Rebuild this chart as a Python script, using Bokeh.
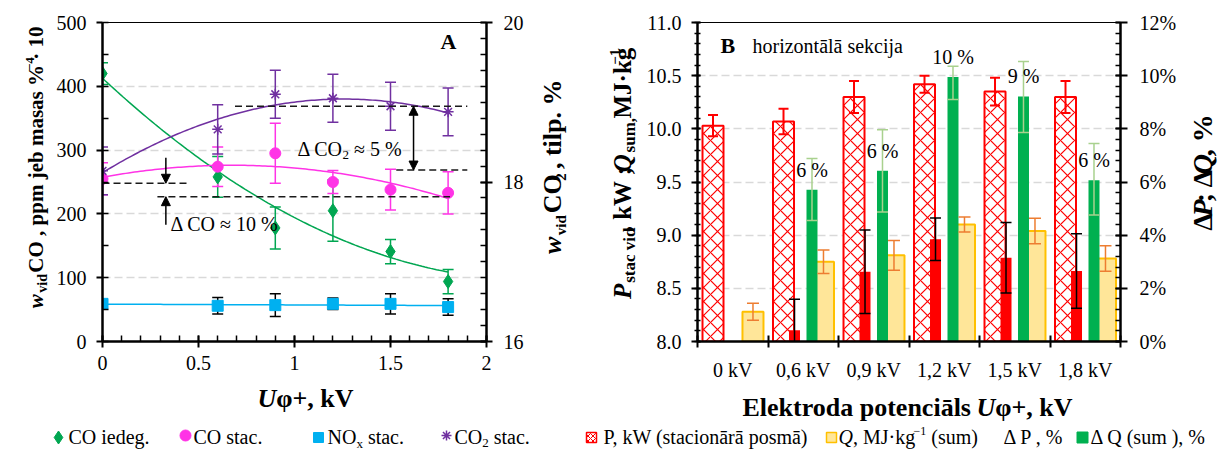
import numpy as np
from bokeh.plotting import figure
from bokeh.models import (Range1d, LinearAxis, SingleIntervalTicker, FixedTicker, Label,
                          Arrow, NormalHead, PrintfTickFormatter, CustomJSTickFormatter)
from bokeh.layouts import row, column
from bokeh.core.properties import value
from bokeh.embed import file_html
from bokeh.resources import INLINE

FONT = "Liberation Serif"

# ---------------- Panel A data ----------------
u_kv = [0.0, 0.6, 0.9, 1.2, 1.5, 1.8]
co_iedeg = [420, 258, 178, 205, 141, 94]
co_iedeg_err = [17, 32, 33, 48, 19, 19]
co_stac = [255, 274, 295, 250, 238, 233]
co_stac_err = [25, 31, 47, 18, 32, 33]
nox_stac = [59, 56, 57, 59, 59, 54]
nox_stac_err = [4, 13, 18, 9, 16, 13]
co2_stac = [18.14, 18.66, 19.10, 19.05, 18.95, 18.88]
co2_stac_err = [0.30, 0.31, 0.30, 0.30, 0.30, 0.30]
co2_levels = [18.15, 18.95]   # dashed reference levels (CO2 axis)
co_levels = [227, 248]        # dashed reference levels (CO axis)

# ---------------- Panel B data ----------------
categories = ["0 kV", "0,6 kV", "0,9 kV", "1,2 kV", "1,5 kV", "1,8 kV"]
p_kw = [10.03, 10.07, 10.30, 10.42, 10.35, 10.30]
p_kw_err = [0.10, 0.12, 0.15, 0.08, 0.13, 0.15]
q_mj = [8.28, 8.75, 8.81, 9.10, 9.04, 8.78]
q_mj_err = [0.08, 0.11, 0.14, 0.07, 0.12, 0.12]
dp_pct = [0.0, 0.42, 2.62, 3.85, 3.15, 2.65]
dp_pct_err = [0.0, 1.17, 1.57, 0.80, 1.33, 1.40]
dq_pct = [0.0, 5.71, 6.42, 9.95, 9.22, 6.07]
dq_pct_err_lo = [0.0, 1.16, 1.55, 0.85, 1.36, 1.31]
dq_pct_err_hi = [0.0, 1.17, 1.55, 0.40, 1.31, 1.38]

# ---------------- text helpers ----------------
REG = {' ': 250, '%': 833, '(': 333, ')': 333, '+': 564, ',': 250, '-': 333, '.': 250, ':': 278, ';': 278,
       'A': 722, 'B': 667, 'C': 667, 'D': 722, 'E': 611, 'F': 556, 'G': 722, 'H': 722, 'I': 333, 'J': 389,
       'K': 722, 'L': 611, 'M': 889, 'N': 722, 'O': 722, 'P': 556, 'Q': 722, 'R': 667, 'S': 556, 'T': 611,
       'U': 722, 'V': 722, 'W': 944, 'a': 444, 'b': 500, 'c': 444, 'd': 500, 'e': 444, 'f': 333, 'g': 500,
       'h': 500, 'i': 278, 'j': 278, 'k': 500, 'l': 278, 'm': 778, 'n': 500, 'o': 500, 'p': 500, 'q': 500,
       'r': 333, 's': 389, 't': 278, 'u': 500, 'v': 500, 'w': 722, 'x': 500, 'y': 500, 'z': 444,
       'Δ': 612, 'φ': 520, '·': 250, '≈': 549, 'ā': 444, '−': 564}
BOLD = {'%': 1000, 'C': 722, 'E': 667, 'G': 778, 'H': 778, 'I': 389, 'K': 778, 'L': 667, 'O': 778,
        'P': 611, 'Q': 778, 'R': 722, 'T': 667, 'W': 1000, 'b': 556, 'd': 556, 'h': 556, 'j': 333,
        'k': 556, 'm': 833, 'n': 556, 'p': 556, 'q': 556, 'r': 444, 't': 333, 'u': 556, ':': 333,
        ';': 333, '+': 570, 'ā': 500, '−': 570}
MID = 0.34   # em distance from baseline to the middle of the text box


def text_width(s, size, style):
    bold = "bold" in style
    tot = 0
    for ch in s:
        if bold and ch in BOLD:
            tot += BOLD[ch]
        else:
            tot += REG.get(ch, 500)
    return tot * size / 1000.0


def compose(p, conv, px, py, segs, vertical=False, color="black"):
    """px, py: page position of the start of the baseline."""
    pos = 0.0
    for txt, size, style, shift in segs:
        lead = len(txt) - len(txt.lstrip(' '))
        pos += lead * 250 * size / 1000.0
        core = txt.strip(' ')
        if core:
            up = shift + MID * size
            if vertical:
                X, Y = px - up, py - pos
            else:
                X, Y = px + pos, py - up
            x, y = conv(X, Y)
            p.add_layout(Label(x=x, y=y, text=core, text_font=FONT, text_font_size=f"{size}px",
                               text_font_style=style, text_align="left", text_baseline="middle",
                               angle=(np.pi / 2 if vertical else 0.0), text_color=color))
            pos += text_width(core, size, style)
        trail = len(txt.lstrip(' ')) - len(txt.strip(' '))
        pos += trail * 250 * size / 1000.0


def style_axis(ax, size="20px"):
    ax.axis_line_width = 2.5
    ax.axis_line_color = "black"
    ax.major_tick_line_width = 2
    ax.minor_tick_line_width = 1.5
    ax.major_tick_line_color = "black"
    ax.minor_tick_line_color = "black"
    ax.major_label_text_font = FONT
    ax.major_label_text_font_size = size
    ax.major_label_text_color = "black"


def errbars(p, xs, ys, lo, hi, color, cap, width=1.5, rng="default"):
    xs2, y0, y1 = [], [], []
    for x, y, l, h in zip(xs, ys, lo, hi):
        if l > 0 or h > 0:
            xs2.append(x); y0.append(y - l); y1.append(y + h)
    p.segment(x0=xs2, y0=y0, x1=xs2, y1=y1, line_color=color, line_width=width, y_range_name=rng)
    p.scatter(x=xs2 + xs2, y=y0 + y1, marker="dash", size=cap, line_color=color,
              line_width=width, y_range_name=rng)


def text_fig(x0, y0, w, h):
    f = figure(width=w, height=h, x_range=Range1d(0, w), y_range=Range1d(0, h),
               output_backend="svg", toolbar_location=None, min_border=0,
               x_axis_location=None, y_axis_location=None)
    f.outline_line_color = None
    f.grid.visible = False
    f.background_fill_color = "white"
    f.border_fill_color = "white"

    def conv(gx, gy):
        return gx - x0, h - (gy - y0)
    return f, conv


H1 = 383          # height of the plot row
H2 = 450 - H1     # height of the title/legend strip

# ======================= PANEL A =======================
A_X0, WA = 52, 484
A_L, A_R, A_T = 50, 50, 22
A_B = H1 - 343
fwA, fhA = WA - A_L - A_R, H1 - A_T - A_B
FRA_X = A_X0 + A_L

pA = figure(width=WA, height=H1, x_range=Range1d(0, 2), y_range=Range1d(0, 500),
            output_backend="svg", toolbar_location=None,
            min_border_left=A_L, min_border_right=A_R, min_border_top=A_T, min_border_bottom=A_B)
pA.extra_y_ranges = {"co2": Range1d(16, 20)}
pA.outline_line_color = "black"
pA.outline_line_width = 1
pA.background_fill_color = "white"
pA.border_fill_color = "white"


def convA(px, py):
    return (px - FRA_X) / fwA * 2.0, (A_T + fhA - py) / fhA * 500.0


pA.xgrid.visible = False
pA.ygrid.grid_line_color = "#D9D9D9"
pA.ygrid.grid_line_dash = "8 4"
pA.ygrid.grid_line_width = 1.5

xa = pA.xaxis[0]
style_axis(xa)
xa.ticker = SingleIntervalTicker(interval=0.5, num_minor_ticks=5)
xa.major_tick_in, xa.major_tick_out = 6, 6
xa.minor_tick_in, xa.minor_tick_out = 6, 0
xa.major_label_standoff = 8

ya = pA.yaxis[0]
style_axis(ya)
ya.ticker = SingleIntervalTicker(interval=100, num_minor_ticks=2)
ya.major_tick_in, ya.major_tick_out = 0, 6
ya.minor_tick_in, ya.minor_tick_out = 6, 0
ya.major_label_standoff = 10

ra = LinearAxis(y_range_name="co2", ticker=SingleIntervalTicker(interval=2, num_minor_ticks=10))
style_axis(ra)
ra.major_tick_in, ra.major_tick_out = 6, 6
ra.minor_tick_in, ra.minor_tick_out = 6, 0
ra.major_label_standoff = 11
pA.add_layout(ra, "right")

C_GREEN, C_MAG, C_CYAN, C_PURP = "#00A651", "#FF33E6", "#00B0F0", "#7030A0"

xfit = np.linspace(0, 1.8, 120)
xs = np.array(u_kv)
pA.line(xfit, np.polyval(np.polyfit(xs, co_iedeg, 2), xfit), line_color=C_GREEN, line_width=1.5)
pA.line(xfit, np.polyval(np.polyfit(xs, co_stac, 2), xfit), line_color=C_MAG, line_width=1.5)
pA.line(xfit, np.polyval(np.polyfit(xs, nox_stac, 1), xfit), line_color=C_CYAN, line_width=1.5)
pA.line(xfit, np.polyval(np.polyfit(xs, co2_stac, 2), xfit), line_color=C_PURP, line_width=1.5,
        y_range_name="co2")

errbars(pA, u_kv, co_iedeg, co_iedeg_err, co_iedeg_err, C_GREEN, 11)
errbars(pA, u_kv, co_stac, co_stac_err, co_stac_err, C_MAG, 11)
errbars(pA, u_kv, nox_stac, nox_stac_err, nox_stac_err, "black", 11)
errbars(pA, u_kv, co2_stac, co2_stac_err, co2_stac_err, C_PURP, 11, rng="co2")

pA.scatter(u_kv, co_iedeg, marker="diamond", size=14, fill_color=C_GREEN, line_color=C_GREEN)
pA.scatter(u_kv, co_stac, marker="circle", size=11, fill_color=C_MAG, line_color=C_MAG)
pA.scatter(u_kv, nox_stac, marker="square", size=11, fill_color=C_CYAN, line_color=C_CYAN)
pA.scatter(u_kv, co2_stac, marker="asterisk", size=11, line_color=C_PURP, line_width=1.5,
           y_range_name="co2")

DASH = dict(line_color="#1a1a1a", line_width=1.5, line_dash="7 4")
pA.line([0.69, 1.90], [co2_levels[1]] * 2, y_range_name="co2", **DASH)
pA.line([1.53, 1.90], [co2_levels[0]] * 2, y_range_name="co2", **DASH)
pA.line([0.0, 0.45], [co_levels[1]] * 2, **DASH)
pA.line([0.286, 1.81], [co_levels[0]] * 2, **DASH)
pA.add_layout(Arrow(x_start=1.62, y_start=co2_levels[0], x_end=1.62, y_end=co2_levels[1],
                    y_range_name="co2", line_width=1.5,
                    start=NormalHead(size=9, fill_color="black", line_color="black"),
                    end=NormalHead(size=9, fill_color="black", line_color="black")))
pA.add_layout(Arrow(x_start=0.33, y_start=288, x_end=0.33, y_end=co_levels[1], line_width=1.5,
                    end=NormalHead(size=9, fill_color="black", line_color="black")))
pA.add_layout(Arrow(x_start=0.33, y_start=183, x_end=0.33, y_end=co_levels[0], line_width=1.5,
                    end=NormalHead(size=9, fill_color="black", line_color="black")))

compose(pA, convA, 297, 156, [("Δ CO", 20, "normal", 0), ("2", 13, "normal", -4), (" ≈ 5 %", 20, "normal", 0)])
compose(pA, convA, 170, 232, [("Δ CO ≈ 10 %", 20, "normal", 0)])
compose(pA, convA, 440, 49, [("A", 22, "bold", 0)])

# ======================= PANEL B =======================
B_X0, WB = 640, 542
B_L, B_R, B_T = 57, 62, 19
B_B = H1 - 349
fwB, fhB = WB - B_L - B_R, H1 - B_T - B_B
FRB_X = B_X0 + B_L

pB = figure(width=WB, height=H1, x_range=Range1d(0, 6), y_range=Range1d(8, 11),
            output_backend="svg", toolbar_location=None,
            min_border_left=B_L, min_border_right=B_R, min_border_top=B_T, min_border_bottom=B_B)
pB.extra_y_ranges = {"pct": Range1d(0, 12)}
pB.outline_line_color = "black"
pB.outline_line_width = 1
pB.background_fill_color = "white"
pB.border_fill_color = "white"


def convB(px, py):
    return (px - FRB_X) / fwB * 6.0, 8.0 + (B_T + fhB - py) / fhB * 3.0


pB.xgrid.visible = False
pB.ygrid.grid_line_color = "#D9D9D9"
pB.ygrid.grid_line_dash = "8 4"
pB.ygrid.grid_line_width = 1.5

xb = pB.xaxis[0]
style_axis(xb)
xb.ticker = FixedTicker(ticks=[i + 0.5 for i in range(len(categories))],
                        minor_ticks=list(range(len(categories) + 1)))
xb.formatter = CustomJSTickFormatter(args=dict(labels=categories),
                                     code="return labels[Math.round(tick - 0.5)] || '';")
xb.major_tick_in, xb.major_tick_out = 0, 0
xb.minor_tick_in, xb.minor_tick_out = 6, 6
xb.minor_tick_line_width = 2
xb.major_label_standoff = 11

yb = pB.yaxis[0]
style_axis(yb)
yb.ticker = SingleIntervalTicker(interval=0.5, num_minor_ticks=5)
yb.formatter = PrintfTickFormatter(format="%.1f")
yb.major_tick_in, yb.major_tick_out = 3, 6
yb.minor_tick_in, yb.minor_tick_out = 3, 3
yb.major_label_standoff = 10

rb = LinearAxis(y_range_name="pct", ticker=SingleIntervalTicker(interval=2, num_minor_ticks=5),
                formatter=PrintfTickFormatter(format="%d%%"))
style_axis(rb)
rb.major_tick_in, rb.major_tick_out = 5, 7
rb.minor_tick_in, rb.minor_tick_out = 5, 0
rb.major_label_standoff = 12
pB.add_layout(rb, "right")

idx = np.arange(len(categories))
P_OFF, Q_OFF, DP_OFF, DQ_OFF = 0.22, 0.787, 0.376, 0.624
W_PQ, W_D = 0.298, 0.156

pB.vbar(x=idx + P_OFF, top=p_kw, bottom=8, width=W_PQ, fill_color="white", line_color="#FF0000",
        line_width=2, hatch_pattern="diagonal_cross", hatch_color="#FF0000", hatch_scale=14,
        hatch_weight=1.2)
pB.vbar(x=idx + Q_OFF, top=q_mj, bottom=8, width=W_PQ, fill_color="#FFE699", line_color="#FFC000",
        line_width=2)
pB.vbar(x=idx + DP_OFF, top=dp_pct, bottom=0, width=W_D, fill_color="#FF0000", line_color=None,
        y_range_name="pct")
pB.vbar(x=idx + DQ_OFF, top=dq_pct, bottom=0, width=W_D, fill_color="#00B050", line_color=None,
        y_range_name="pct")

errbars(pB, list(idx + P_OFF), p_kw, p_kw_err, p_kw_err, "#FF0000", 10, width=2)
errbars(pB, list(idx + Q_OFF), q_mj, q_mj_err, q_mj_err, "#ED7D31", 12, width=1.5)
errbars(pB, list(idx + DP_OFF), dp_pct, dp_pct_err, dp_pct_err, "black", 11, width=1.5, rng="pct")
errbars(pB, list(idx + DQ_OFF), dq_pct, dq_pct_err_lo, dq_pct_err_hi, "#A9D18E", 11, width=1.5,
        rng="pct")

LABEL_GAP = 0.75
lab_x = [i + DQ_OFF for i, v in enumerate(dq_pct) if v > 0]
lab_y = [v + LABEL_GAP for v in dq_pct if v > 0]
lab_t = [f"{round(v):.0f} %" for v in dq_pct if v > 0]
pB.text(x=lab_x, y=lab_y, text=lab_t, y_range_name="pct", text_font=value(FONT),
        text_font_size="20px", text_align="center", text_baseline="middle", text_color="black")

compose(pB, convB, 720, 50, [("B", 22, "bold", 0)])
compose(pB, convB, 752, 50, [("horizontālā sekcija", 20, "normal", 0)])

# ======================= text strips =======================
tAL, convAL = text_fig(0, 0, A_X0, H1)
tMid, convMid = text_fig(A_X0 + WA, 0, B_X0 - (A_X0 + WA), H1)
tBR, convBR = text_fig(B_X0 + WB, 0, 1222 - (B_X0 + WB), H1)
tBot, convBot = text_fig(0, H1, 1222, H2)

compose(tAL, convAL, 43, 343, [("w", 21, "bold italic", 0), (" vid", 14, "bold", -4),
                               (" CO , ppm jeb masas % · 10", 21, "bold", 0), ("−4", 13, "bold", 9)],
        vertical=True)
compose(tMid, convMid, 561, 278, [("w", 26, "bold italic", 0), (" vid", 15, "bold", -5), (" CO", 26, "bold", 0),
                                  ("2", 15, "bold", -5), (" , tilp. %", 26, "bold", 0)], vertical=True)
compose(tMid, convMid, 630, 332, [("P", 25, "bold italic", 0), (" stac vid", 17, "bold", -5),
                                  (" , kW ; ", 25, "bold", 0), ("Q", 25, "bold italic", 0),
                                  (" sum,", 17, "bold", -5), (" MJ·kg", 25, "bold", 0), ("−1", 15, "bold", 10)],
        vertical=True)
compose(tBR, convBR, 1212, 250, [("Δ", 28, "bold", 0), ("P", 28, "bold italic", 0), ("; Δ", 28, "bold", 0),
                                 ("Q", 28, "bold italic", 0), (", %", 28, "bold", 0)], vertical=True)

# x-axis titles
compose(tBot, convBot, 257, 407, [("U", 26, "bold italic", 0), ("φ+, kV", 26, "bold", 0)])
compose(tBot, convBot, 742, 416, [("Elektroda potenciāls ", 26, "bold", 0), ("U", 26, "bold italic", 0),
                                  ("φ+, kV", 26, "bold", 0)])


def legend_marker(gx, gy, **kw):
    x, y = convBot(gx, gy)
    tBot.scatter([x], [y], **kw)


# legend A
legend_marker(58, 437, marker="diamond", size=13, fill_color=C_GREEN, line_color=C_GREEN)
compose(tBot, convBot, 68, 443, [("CO iedeg.", 20, "normal", 0)])
legend_marker(185, 435, marker="circle", size=11, fill_color=C_MAG, line_color=C_MAG)
compose(tBot, convBot, 193, 443, [("CO stac.", 20, "normal", 0)])
legend_marker(318, 437, marker="square", size=10, fill_color=C_CYAN, line_color=C_CYAN)
compose(tBot, convBot, 327, 443, [("NO", 20, "normal", 0), ("x", 13, "normal", -4), (" stac.", 20, "normal", 0)])
legend_marker(446, 435, marker="asterisk", size=10, line_color=C_PURP, line_width=1.5)
compose(tBot, convBot, 454, 443, [("CO", 20, "normal", 0), ("2", 13, "normal", -4), (" stac.", 20, "normal", 0)])

# legend B
legend_marker(591, 437, marker="square", size=10, fill_color="white", line_color="#FF0000", line_width=1.5,
              hatch_pattern="diagonal_cross", hatch_color="#FF0000", hatch_scale=5, hatch_weight=1)
compose(tBot, convBot, 603, 443, [("P, kW (stacionārā posmā)", 20, "normal", 0)])
legend_marker(831, 437, marker="square", size=10, fill_color="#FFE699", line_color="#FFC000", line_width=1.5)
compose(tBot, convBot, 838, 443, [("Q", 20, "italic", 0), (", MJ·kg", 20, "normal", 0), ("−1", 12, "normal", 8),
                                  (" (sum)", 20, "normal", 0)])
compose(tBot, convBot, 1003, 443, [("Δ P , %", 20, "normal", 0)])
legend_marker(1082, 437, marker="square", size=11, fill_color="#00B050", line_color="#00B050")
compose(tBot, convBot, 1090, 443, [("Δ Q (sum ), %", 20, "normal", 0)])

layout = column(row(tAL, pA, tMid, pB, tBR), tBot)
open("out.html", "w").write(file_html(layout, INLINE))
